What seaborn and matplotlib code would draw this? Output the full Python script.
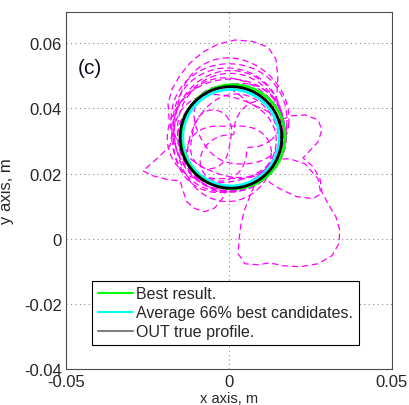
import numpy as np
import pandas as pd
import matplotlib
matplotlib.use("Agg")
import matplotlib.pyplot as plt
from matplotlib.lines import Line2D
import seaborn as sns

# ---------------- data ----------------
x_ticks = [-0.05, 0.0, 0.05]
x_tick_labels = ["-0.05", "0", "0.05"]
y_ticks = [-0.04, -0.02, 0.0, 0.02, 0.04, 0.06]
y_tick_labels = ["-0.04", "-0.02", "0", "0.02", "0.04", "0.06"]

legend_labels = ["Best result.", "Average 66% best candidates.", "OUT true profile."]

# circle-like profiles: centre x, centre y, radius
true_profile = [0.0006, 0.0311, 0.0156]
best_result = [0.0012, 0.0313, 0.0160]
average_best = [0.0006, 0.0310, 0.0148]

# candidate profiles: r(t) = r0 + a2 cos2t + b2 sin2t + a3 cos3t + b3 sin3t
cand_cx = [0.0000, -0.0005, 0.0005, -0.0010, 0.0010, 0.0000, -0.0015, 0.0015,
           -0.0005, 0.0005, -0.0055, 0.0035, 0.0000, 0.0020]
cand_cy = [0.0345, 0.0330, 0.0320, 0.0335, 0.0315, 0.0350, 0.0300, 0.0290,
           0.0325, 0.0340, 0.0305, 0.0300, 0.0265, 0.0340]
cand_r0 = [0.0187, 0.0178, 0.0170, 0.0172, 0.0162, 0.0190, 0.0150, 0.0145,
           0.0185, 0.0160, 0.0075, 0.0090, 0.0105, 0.0120]
cand_a2 = [-0.0010, -0.0008, -0.0003, 0.0005, 0.0000, -0.0015, 0.0006, -0.0005,
           -0.0020, 0.0010, -0.0015, 0.0000, 0.0025, 0.0010]
cand_b2 = [0.0000, 0.0006, -0.0004, 0.0008, 0.0006, 0.0010, -0.0005, 0.0005,
           0.0000, -0.0006, 0.0005, 0.0060, 0.0000, -0.0020]
cand_a3 = [0.0000, 0.0000, 0.0004, 0.0000, -0.0005, 0.0008, 0.0004, 0.0000,
           0.0000, -0.0004, 0.0000, 0.0000, 0.0000, 0.0010]
cand_b3 = [0.0005, 0.0000, 0.0000, -0.0005, 0.0003, 0.0000, 0.0004, -0.0004,
           0.0006, 0.0000, 0.0000, 0.0000, 0.0000, 0.0000]

# flower-shaped outlier candidate (vertices)
flower_x = [-0.0264, -0.0233, -0.0187, -0.0150, -0.0141, -0.0129, -0.0104, -0.0074,
            -0.0043, -0.0021, -0.0006, 0.0043, 0.0083, 0.0067, 0.0049, 0.0037,
            0.0031, 0.0028, 0.0049, 0.0089, 0.0126, 0.0163, 0.0218, 0.0273,
            0.0316, 0.0337, 0.0340, 0.0328, 0.0304, 0.0285, 0.0279, 0.0258,
            0.0227, 0.0248, 0.0273, 0.0285, 0.0273, 0.0233, 0.0187, 0.0153,
            0.0135, 0.0147, 0.0150, 0.0144, 0.0120, 0.0071, 0.0018, -0.0034,
            -0.0080, -0.0120, -0.0150, -0.0175, -0.0187, -0.0184, -0.0175, -0.0181,
            -0.0212, -0.0242]
flower_y = [0.0208, 0.0193, 0.0181, 0.0178, 0.0147, 0.0113, 0.0092, 0.0083,
            0.0095, 0.0123, 0.0153, 0.0159, 0.0175, 0.0138, 0.0092, 0.0046,
            0.0000, -0.0046, -0.0077, -0.0080, -0.0074, -0.0083, -0.0086, -0.0077,
            -0.0052, -0.0015, 0.0025, 0.0067, 0.0107, 0.0144, 0.0184, 0.0221,
            0.0248, 0.0270, 0.0297, 0.0334, 0.0365, 0.0380, 0.0377, 0.0361,
            0.0398, 0.0444, 0.0496, 0.0551, 0.0588, 0.0606, 0.0610, 0.0597,
            0.0573, 0.0539, 0.0502, 0.0459, 0.0414, 0.0368, 0.0322, 0.0285,
            0.0254, 0.0227]

# small right-hand lobe candidate
lobe_x = [0.0101, 0.0126, 0.0156, 0.0208, 0.0258, 0.0282, 0.0273, 0.0233,
          0.0187, 0.0141]
lobe_y = [0.0199, 0.0172, 0.0153, 0.0129, 0.0123, 0.0138, 0.0184, 0.0230,
          0.0245, 0.0245]

# ---------------- figure ----------------
sns.set_style("white")
plt.rcParams["font.family"] = ["Liberation Sans", "DejaVu Sans"]
plt.rcParams["axes.unicode_minus"] = False

fig = plt.figure(figsize=(4.09, 4.06), dpi=100)
ax = fig.add_axes([0.1614, 0.0887, 0.7970, 0.8793])

t = np.linspace(0, 2 * np.pi, 361)
MAG = "#ff00ff"

def closed(xs, ys):
    return list(xs) + [xs[0]], list(ys) + [ys[0]]

# candidates
for i in range(len(cand_cx)):
    r = (cand_r0[i] + cand_a2[i] * np.cos(2 * t) + cand_b2[i] * np.sin(2 * t)
         + cand_a3[i] * np.cos(3 * t) + cand_b3[i] * np.sin(3 * t))
    df = pd.DataFrame({"x": cand_cx[i] + r * np.cos(t), "y": cand_cy[i] + r * np.sin(t)})
    sns.lineplot(data=df, x="x", y="y", sort=False, estimator=None, ax=ax,
                 color=MAG, lw=0.9, linestyle=(0, (5, 3)), zorder=2)

fx, fy = closed(flower_x, flower_y)
sns.lineplot(x=fx, y=fy, sort=False, estimator=None, ax=ax,
             color=MAG, lw=0.9, linestyle=(0, (5, 3)), zorder=2)
lx, ly = closed(lobe_x, lobe_y)
sns.lineplot(x=lx, y=ly, sort=False, estimator=None, ax=ax,
             color=MAG, lw=0.9, linestyle=(0, (5, 3)), zorder=2)

def circ(p):
    return pd.DataFrame({"x": p[0] + p[2] * np.cos(t), "y": p[1] + p[2] * np.sin(t)})

sns.lineplot(data=circ(average_best), x="x", y="y", sort=False, estimator=None, ax=ax,
             color="#00ffff", lw=2.0, zorder=3)
sns.lineplot(data=circ(best_result), x="x", y="y", sort=False, estimator=None, ax=ax,
             color="#00ff00", lw=2.0, zorder=4)
sns.lineplot(data=circ(true_profile), x="x", y="y", sort=False, estimator=None, ax=ax,
             color="black", lw=2.0, zorder=5)

ax.set_xlim(-0.05, 0.05)
ax.set_ylim(-0.04, 0.0696)
ax.set_xticks(x_ticks)
ax.set_xticklabels(x_tick_labels)
ax.set_yticks(y_ticks)
ax.set_yticklabels(y_tick_labels)
ax.tick_params(direction="in", length=4, width=0.6, labelsize=12, color="#4d4d4d")
ax.tick_params(axis="y", pad=3)
ax.tick_params(axis="x", pad=3.5)
ax.grid(True, linestyle=(0, (1, 3)), color="#8c8c8c", lw=0.8)
ax.set_axisbelow(True)
for s in ax.spines.values():
    s.set_color("#4d4d4d")
    s.set_linewidth(0.8)

ax.set_xlabel("x axis, m", fontsize=10.5)
ax.set_ylabel("y axis, m", fontsize=12)
ax.xaxis.set_label_coords(0.5, -0.061)
ax.yaxis.set_label_coords(-0.16, 0.5)

ax.text(-0.0465, 0.0525, "(c)", fontsize=15, ha="left", va="center", color="#111122")

handles = [Line2D([], [], color="#00ff00", lw=1.5),
           Line2D([], [], color="#00ffff", lw=1.5),
           Line2D([], [], color="#808080", lw=1.5)]
leg = ax.legend(handles, legend_labels, loc="lower left", bbox_to_anchor=(0.08, 0.067),
                fontsize=11.5, handlelength=2.2, handletextpad=0.2, labelspacing=0.25,
                borderpad=0.35, borderaxespad=0, fancybox=False, framealpha=1,
                edgecolor="black")
leg.get_frame().set_linewidth(0.8)

fig.savefig("out.png", dpi=100)
